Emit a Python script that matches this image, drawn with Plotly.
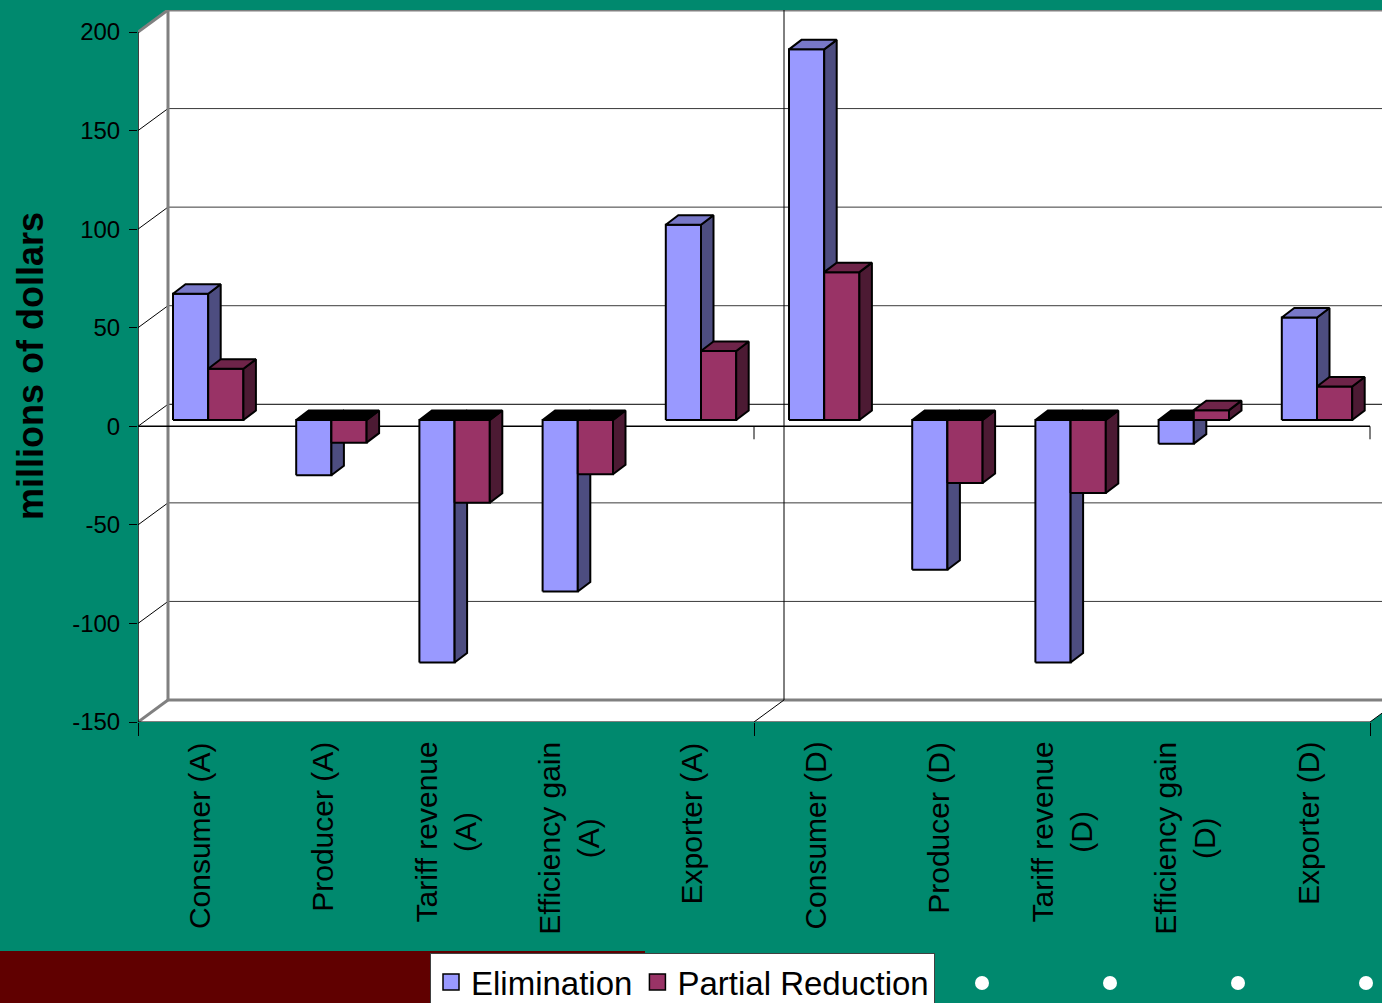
import plotly.graph_objects as go

# ---------------- data ----------------
categories = ["Consumer (A)", "Producer (A)", "Tariff revenue<br>(A)", "Efficiency gain<br>(A)",
              "Exporter (A)", "Consumer (D)", "Producer (D)", "Tariff revenue<br>(D)",
              "Efficiency gain<br>(D)", "Exporter (D)"]
elimination = [64, -28, -123, -87, 99, 188, -76, -123, -12, 52]
partial_reduction = [26, -11.5, -42, -27.5, 35, 75, -32, -37, 5, 17]
series_names = ["Elimination", "Partial Reduction"]
y_ticks = [-150, -100, -50, 0, 50, 100, 150, 200]
y_tick_text = ["-150", "-100", "-50", "0", "50", "100", "150", "200"]

# ---------------- styling ----------------
TEAL = "#00896E"
FONT = "Liberation Sans, Arial, sans-serif"
front_cols = ["#9999FF", "#993366"]
side_cols = ["#4D4D80", "#4C1A33"]
top_cols = ["#7878C8", "#6E2449"]

W, H = 1382, 1003
ML, MR, MT, MB = 138, 0, 10, 281
PW, PH = W - ML - MR, H - MT - MB
YMIN, YMAX_FRONT = -150, 200
PXY = (722 - 32) / (YMAX_FRONT - YMIN)          # px per y-unit
PXX = (1370 - 138) / len(categories)            # px per category
DX, DY = 30 / PXX, 22 / PXY                      # wall depth offset (data units)
XL, XRF = -0.5, len(categories) - 0.5
XMAX = XRF + 12 / PXX
YMAX = YMAX_FRONT + DY

BW = 35.2 / PXX                 # bar width
BSX, BSY = 8.6 / PXX, 6.3 / PXY  # bar plane offset
BDX, BDY = 12.5 / PXX, 9.5 / PXY  # bar depth

def px_to_paper_x(px):
    return (px - ML) / PW

def px_to_paper_y(py):
    return (H - MB - py) / PH

fig = go.Figure()

# ---------------- bars (front / side / top faces) ----------------
def faces(values, s):
    fx, fy, sx, sy, tpx, tpy, tnx, tny = [], [], [], [], [], [], [], []
    for i, v in enumerate(values):
        x0 = i + BSX - BW + s * BW
        x1 = x0 + BW
        lo = BSY + min(0, v)
        hi = BSY + max(0, v)
        fx += [x0, x1, x1, x0, x0, None]
        fy += [lo, lo, hi, hi, lo, None]
        sx += [x1, x1 + BDX, x1 + BDX, x1, x1, None]
        sy += [lo, lo + BDY, hi + BDY, hi, lo, None]
        tx = [x0, x1, x1 + BDX, x0 + BDX, x0, None]
        ty = [hi, hi, hi + BDY, hi + BDY, hi, None]
        if v >= 0:
            tpx += tx; tpy += ty
        else:
            tnx += tx; tny += ty
    return (fx, fy), (sx, sy), (tpx, tpy), (tnx, tny)

for s, vals in enumerate([elimination, partial_reduction]):
    (fx, fy), (sx, sy), (tpx, tpy), (tnx, tny) = faces(vals, s)
    common = dict(mode="lines", fill="toself", line=dict(color="black", width=2),
                  showlegend=False, hoverinfo="skip")
    fig.add_trace(go.Scatter(x=fx, y=fy, fillcolor=front_cols[s], name=series_names[s], **common))
    fig.add_trace(go.Scatter(x=sx, y=sy, fillcolor=side_cols[s], **common))
    if tpx:
        fig.add_trace(go.Scatter(x=tpx, y=tpy, fillcolor=top_cols[s], **common))
    if tnx:
        fig.add_trace(go.Scatter(x=tnx, y=tny, fillcolor="black", **common))

# legend entries
for s in range(2):
    fig.add_trace(go.Scatter(x=[None], y=[None], mode="markers", name=series_names[s],
                             marker=dict(symbol="square", size=20, color=front_cols[s],
                                         line=dict(color="black", width=1.5))))

# ---------------- walls / grid ----------------
shapes = []
shapes.append(dict(type="path", xref="x", yref="y", layer="below",
                   path=f"M {XL},{YMIN} L {XL},{YMAX_FRONT} L {XL+DX},{YMAX} L {XMAX},{YMAX} "
                        f"L {XMAX},{YMIN + 12 * 22 / 30 / PXY} L {XRF},{YMIN} Z",
                   fillcolor="white", line=dict(width=0)))

def seg(x0, y0, x1, y1, color, width):
    shapes.append(dict(type="line", xref="x", yref="y", layer="below",
                       x0=x0, y0=y0, x1=x1, y1=y1, line=dict(color=color, width=width)))

for v in y_ticks:
    edge = v in (YMIN, YMAX_FRONT)
    col = "#808080" if edge else ("#000000" if v == 0 else "#3A3A3A")
    wid = 3 if edge else 1
    seg(XL + DX, v + DY, XMAX, v + DY, col, wid)
    seg(XL, v, XL + DX, v + DY, "#808080" if edge else "black", wid)
seg(XL + DX, YMIN + DY, XL + DX, YMAX, "#808080", 3)
mid = (len(categories) // 2) - 0.5
seg(mid + DX, YMIN + DY, mid + DX, YMAX, "black", 1)
seg(mid, YMIN, mid + DX, YMIN + DY, "black", 1)
seg(XRF, YMIN, XMAX, YMIN + 12 * 22 / 30 / PXY, "black", 1)
seg(XL, YMIN, XL, YMAX_FRONT, "black", 1.5)
seg(XL, YMIN, XRF, YMIN, "black", 1)
seg(XL, 0, XRF, 0, "black", 1.5)
for xt in (mid, XRF):
    seg(xt, 0, xt, -13 / PXY, "black", 1)

# ---------------- decorations ----------------
shapes.append(dict(type="rect", xref="paper", yref="paper", layer="above",
                   x0=px_to_paper_x(0), x1=px_to_paper_x(645),
                   y0=px_to_paper_y(951), y1=px_to_paper_y(1010),
                   fillcolor="#600000", line=dict(width=0)))
for cx in (982, 1110, 1238, 1366):
    shapes.append(dict(type="circle", xref="paper", yref="paper", layer="above",
                       x0=px_to_paper_x(cx - 7), x1=px_to_paper_x(cx + 7),
                       y0=px_to_paper_y(983 + 7), y1=px_to_paper_y(983 - 7),
                       fillcolor="white", line=dict(width=0)))

# ---------------- category labels ----------------
annotations = []
for i, c in enumerate(categories):
    annotations.append(dict(x=i, xref="x", y=px_to_paper_y(740), yref="paper",
                            text=c, showarrow=False, textangle=-90, xanchor="center",
                            yanchor="top", align="center",
                            font=dict(family=FONT, size=30, color="black")))

fig.update_layout(
    width=W, height=H,
    margin=dict(l=ML, r=MR, t=MT, b=MB, autoexpand=False),
    paper_bgcolor=TEAL, plot_bgcolor=TEAL,
    shapes=shapes, annotations=annotations,
    showlegend=True,
    legend=dict(orientation="h", x=px_to_paper_x(430), y=px_to_paper_y(953),
                xanchor="left", yanchor="top", bgcolor="white",
                bordercolor="#404040", borderwidth=1,
                font=dict(family=FONT, size=33, color="black"),
                itemsizing="trace"),
    xaxis=dict(range=[XL, XMAX], showgrid=False, zeroline=False, showline=False,
               tickvals=[XL, mid, XRF], ticks="outside", ticklen=13, tickcolor="black",
               tickwidth=1, showticklabels=False, fixedrange=True),
    yaxis=dict(range=[YMIN, YMAX], showgrid=False, zeroline=False, showline=False,
               tickvals=y_ticks, ticktext=y_tick_text, ticks="outside", ticklen=8,
               tickcolor="black", tickwidth=1, ticklabelstandoff=4,
               tickfont=dict(family=FONT, size=24, color="black"),
               title=dict(text="millions of dollars", standoff=17,
                          font=dict(family=FONT, size=36, color="black", weight="bold")),
               fixedrange=True),
    hovermode=False,
)

fig.write_html("out.html")
